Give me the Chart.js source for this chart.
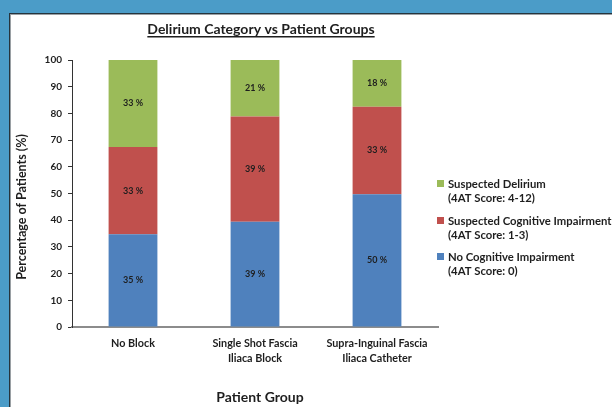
<!DOCTYPE html>
<html>
<head>
<meta charset="utf-8">
<script src="https://cdn.jsdelivr.net/npm/chart.js@4.4.1/dist/chart.umd.min.js"></script>
<style>
  html, body { margin: 0; padding: 0; }
  body { width: 612px; height: 407px; background: #4b9cc8; overflow: hidden; position: relative; }
  #panel { position: absolute; left: 9px; top: 13px; width: 640px; height: 420px; background: #fff; border: 1px solid #26343d; box-shadow: 1px 1px 0 #9aa0a4 inset; box-sizing: border-box; }
  #wrap { position: absolute; left: 0; top: 0; width: 612px; height: 407px; }
</style>
</head>
<body>
<div id="panel"></div>
<div id="wrap"><canvas id="chart"></canvas></div>
<script>
  // Data
  const categories = ['No Block', ['Single Shot Fascia', 'Iliaca Block'], ['Supra-Inguinal Fascia', 'Iliaca Catheter']];
  const noImpairment = [34.7, 39.4, 49.7];
  const cognitiveImpairment = [32.7, 39.4, 32.8];
  const delirium = [32.6, 21.2, 17.5];
  const seriesNames = ['No Cognitive Impairment', 'Suspected Cognitive Impairment', 'Suspected Delirium'];
  const seriesScores = ['(4AT Score: 0)', '(4AT Score: 1-3)', '(4AT Score: 4-12)'];
  const seriesColors = ['#4f81bd', '#c0504d', '#9bbb59'];

  const FONT = 'Lato, "Open Sans", sans-serif';
  const TEXT = '#1e1e1e';

  // Title, axis titles, bar labels and the legend
  const decor = {
    id: 'decor',
    afterDraw(chart) {
      const ctx = chart.ctx;
      ctx.save();
      ctx.fillStyle = TEXT;

      // title
      ctx.font = `bold 14px ${FONT}`;
      ctx.textAlign = 'center';
      ctx.textBaseline = 'middle';
      const title = 'Delirium Category vs Patient Groups';
      ctx.fillText(title, 261, 29);
      const tw = ctx.measureText(title).width;
      ctx.fillRect(261 - tw / 2, 36, tw, 1.5);

      // axis titles
      ctx.font = `bold 14px ${FONT}`;
      ctx.fillText('Patient Group', 260, 397);
      ctx.font = `bold 12.5px ${FONT}`;
      ctx.save();
      ctx.translate(22, 207);
      ctx.rotate(-Math.PI / 2);
      ctx.fillText('Percentage of Patients (%)', 0, 0);
      ctx.restore();

      // bar value labels
      ctx.font = `bold 9px ${FONT}`;
      chart.data.datasets.forEach((ds, i) => {
        chart.getDatasetMeta(i).data.forEach((bar, j) => {
          ctx.fillText(Math.round(ds.data[j]) + ' %', bar.x, (bar.y + bar.base) / 2);
        });
      });

      // legend (top item is the top of the stack)
      ctx.textAlign = 'left';
      ctx.font = `bold 11.3px ${FONT}`;
      const rows = [184, 221, 257];
      [2, 1, 0].forEach((s, k) => {
        const y = rows[k];
        ctx.fillStyle = seriesColors[s];
        ctx.fillRect(437, y - 4, 7, 7);
        ctx.fillStyle = TEXT;
        ctx.fillText(seriesNames[s], 448, y);
        ctx.fillText(seriesScores[s], 448, y + 14.5);
      });
      ctx.restore();
    }
  };

  new Chart(document.getElementById('chart'), {
    type: 'bar',
    data: {
      labels: categories,
      datasets: [
        { label: seriesNames[0], data: noImpairment, backgroundColor: seriesColors[0] },
        { label: seriesNames[1], data: cognitiveImpairment, backgroundColor: seriesColors[1] },
        { label: seriesNames[2], data: delirium, backgroundColor: seriesColors[2] }
      ]
    },
    options: {
      responsive: true,
      maintainAspectRatio: false,
      animation: false,
      layout: { padding: { top: 60, right: 174, left: 0, bottom: 0 } },
      datasets: { bar: { categoryPercentage: 1, barPercentage: 0.4, borderWidth: 0 } },
      plugins: { legend: { display: false }, tooltip: { enabled: false } },
      scales: {
        x: {
          stacked: true,
          grid: { display: true, drawOnChartArea: false, drawTicks: false },
          border: { color: '#8c8c8c', width: 2 },
          ticks: { color: TEXT, font: { family: FONT, weight: 'bold', size: 10.8, lineHeight: 1.4 }, padding: 9, maxRotation: 0 },
          afterFit(s) { s.height = 80; }
        },
        y: {
          stacked: true,
          min: 0,
          max: 100,
          grid: { drawOnChartArea: false, drawTicks: true, tickLength: 4, color: '#333' },
          border: { color: '#333', width: 1 },
          ticks: { stepSize: 10, color: TEXT, font: { family: FONT, weight: 'bold', size: 10 }, padding: 6 },
          afterFit(s) { s.width = 72; }
        }
      }
    },
    plugins: [decor]
  });
</script>
</body>
</html>
